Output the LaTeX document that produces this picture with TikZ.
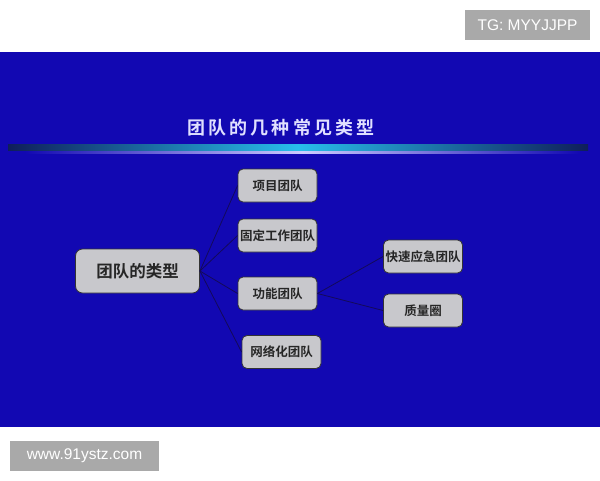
\documentclass[tikz,border=0pt]{standalone}
\usepackage{fontspec}
\setmainfont{Liberation Sans}
\newfontfamily\cjk{Noto Sans CJK SC Bold}
\newfontfamily\cjkb[LetterSpace=18]{Noto Sans CJK SC Bold}
\definecolor{bgblue}{RGB}{18,8,178}
\definecolor{boxgray}{RGB}{200,200,204}
\definecolor{wmgray}{RGB}{169,169,169}
\definecolor{linknavy}{RGB}{20,10,90}
\definecolor{barcyan}{RGB}{40,190,235}
\definecolor{baredge}{RGB}{15,30,90}
\tikzset{
  kid/.style={draw=black!80, line width=0.8pt, fill=boxgray, rounded corners=5pt,
    minimum width=79pt, minimum height=33pt, inner sep=1pt, font=\cjk\fontsize{12.5}{14}\selectfont, text=black!85},
  root/.style={kid, minimum width=124pt, minimum height=44pt, rounded corners=7pt, font=\cjk\fontsize{16.5}{18}\selectfont},
  link/.style={draw=linknavy, line width=0.8pt},
  wm/.style={fill=wmgray, text=white, inner sep=0pt, font=\fontsize{15.5}{17}\selectfont}
}
\begin{document}
\begin{tikzpicture}[x=1pt,y=-1pt]
\useasboundingbox (0,0) rectangle (600,480);
\fill[white] (0,0) rectangle (600,480);
\fill[bgblue] (0,52) rectangle (600,427);
% title
\node[text=white!88!blue, font=\cjkb\fontsize{18}{20}\selectfont] (title) at (281,128) {团队的几种常见类型};
% bar
\shade[left color=baredge, right color=baredge, middle color=barcyan] (8,144) rectangle (588,150);
\shade[left color=bgblue, right color=bgblue, middle color=white!80!blue] (25,151.5) rectangle (580,153);
% nodes
\node[root] (r) at (137.5,271) {团队的类型};
\node[kid] (a) at (277.5,185.5) {项目团队};
\node[kid] (b) at (277.5,235.5) {固定工作团队};
\node[kid] (c) at (277.5,293.5) {功能团队};
\node[kid] (d) at (281.5,352) {网络化团队};
\node[kid] (e) at (423,256.5) {快速应急团队};
\node[kid] (f) at (423,310.5) {质量圈};
% links
\draw[link] (r.east) -- (a.west);
\draw[link] (r.east) -- (b.west);
\draw[link] (r.east) -- (c.west);
\draw[link] (r.east) -- (d.west);
\draw[link] (c.east) -- (e.west);
\draw[link] (c.east) -- (f.west);
% watermarks
\node[wm, minimum width=125pt, minimum height=30pt] (tg) at (527.5,25) {TG: MYYJJPP};
\node[wm, minimum width=149pt, minimum height=30pt] (www) at (84.5,455.5) {www.91ystz.com};
\end{tikzpicture}
\end{document}
